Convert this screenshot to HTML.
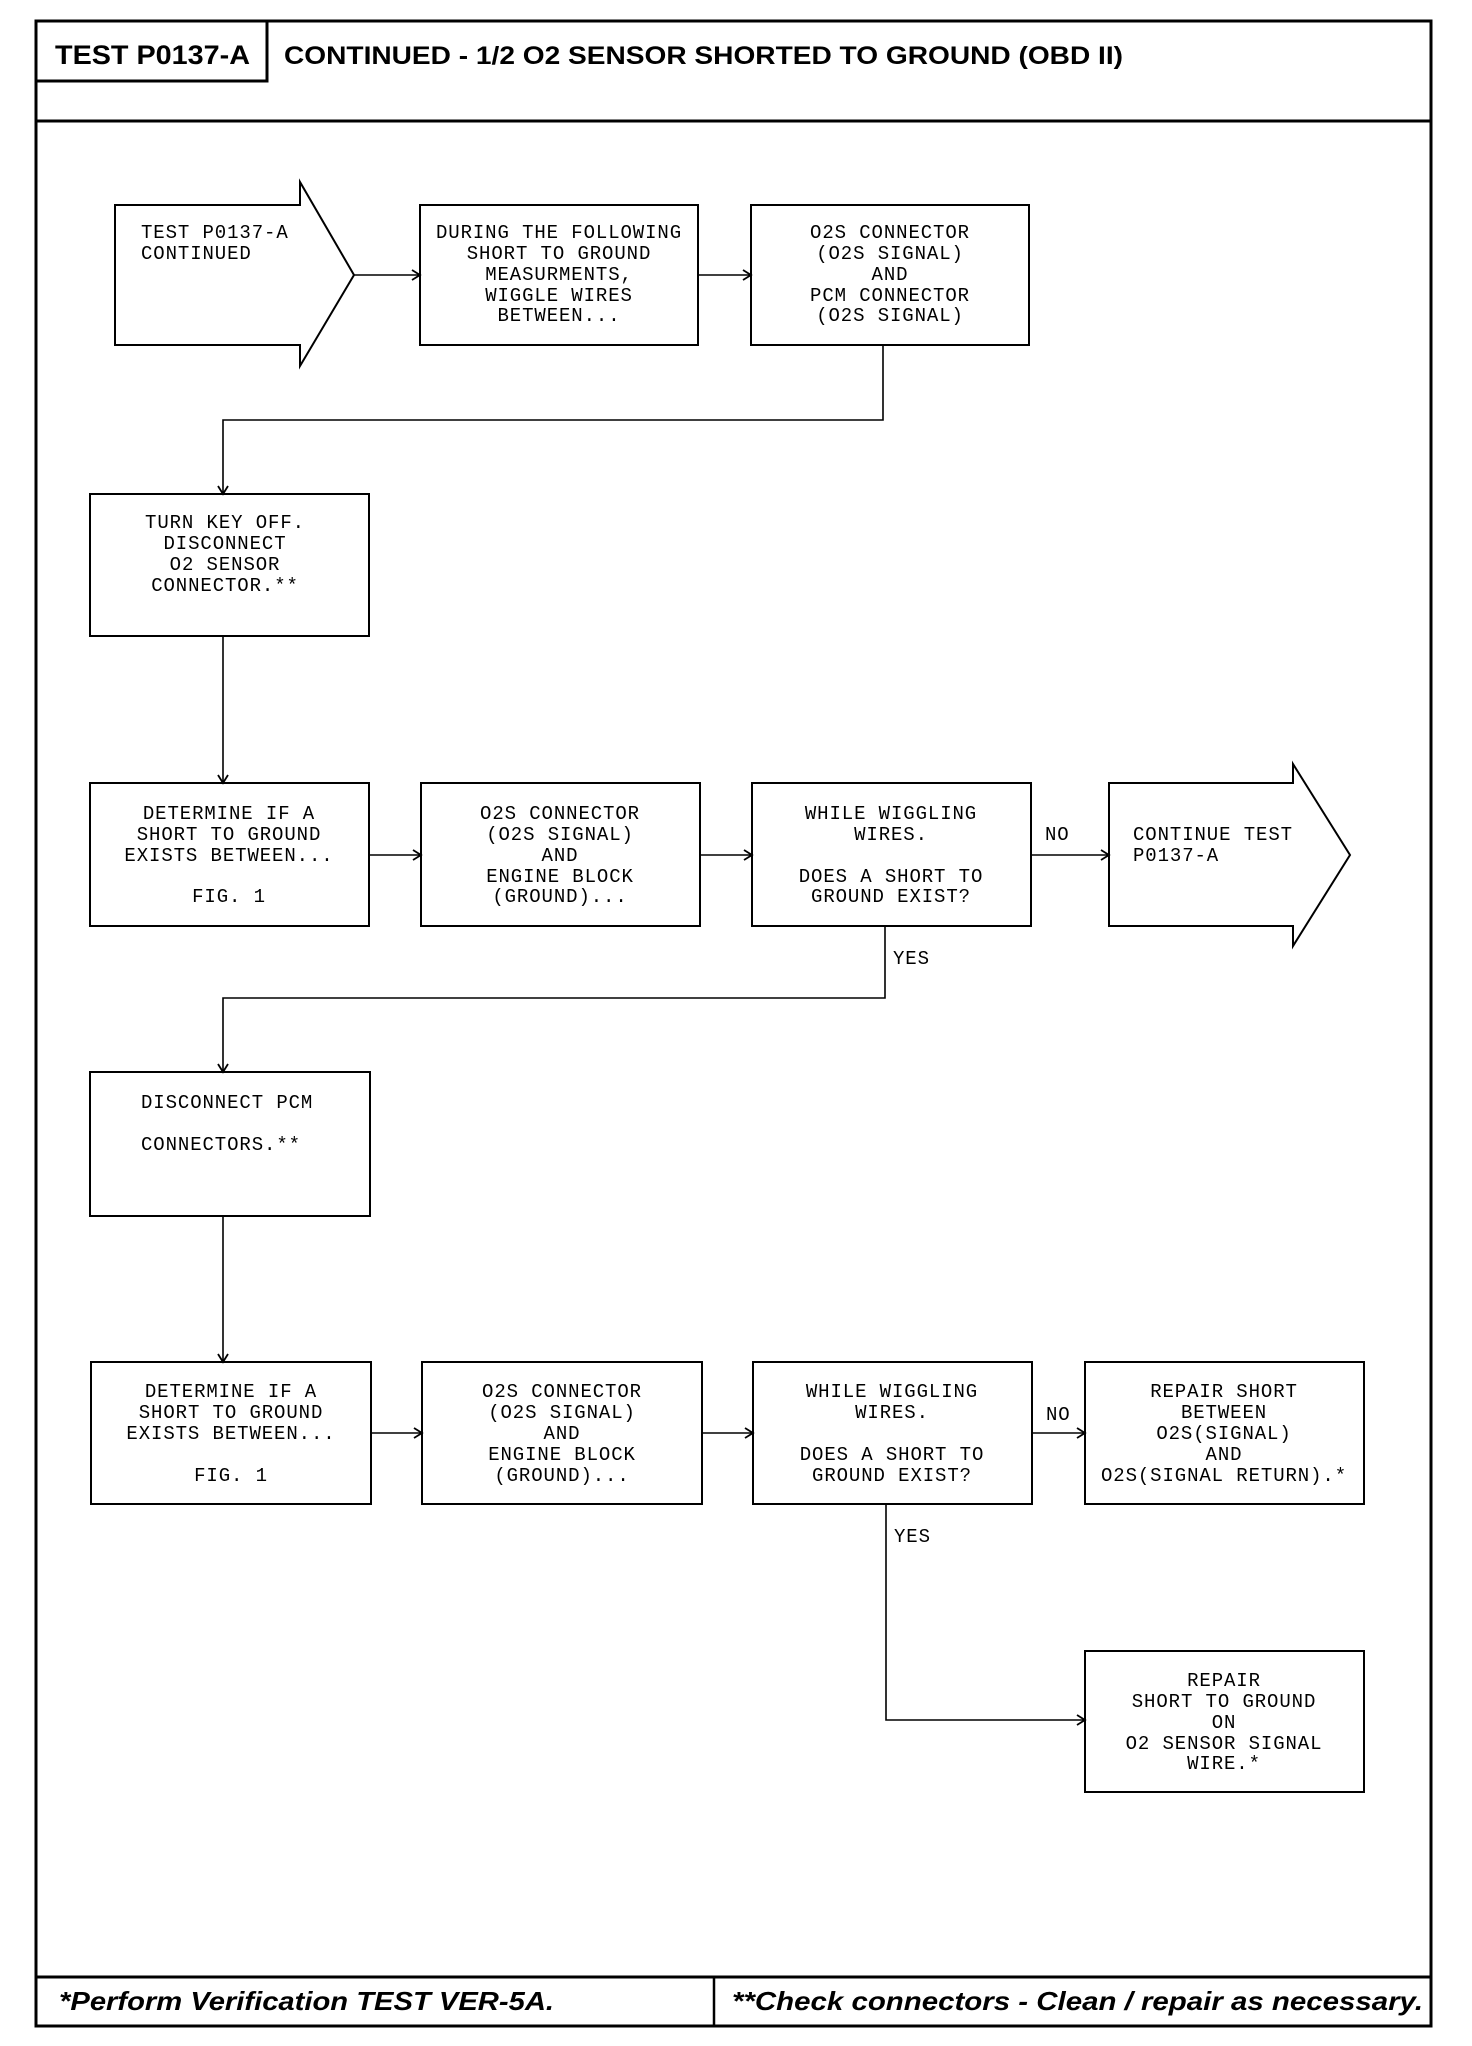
<!DOCTYPE html>
<html><head><meta charset="utf-8"><style>html,body{margin:0;padding:0;background:#fff}svg{display:block}</style></head>
<body>
<svg width="1472" height="2046" viewBox="0 0 1472 2046" xmlns="http://www.w3.org/2000/svg">
<defs>
<marker id="a" markerWidth="12" markerHeight="12" refX="10" refY="6" orient="auto" markerUnits="userSpaceOnUse">
<path d="M2,1 L10,6 L2,11" fill="none" stroke="#000" stroke-width="1.8"/>
</marker>
</defs>
<g fill="none" stroke="#000">
<rect x="36" y="21" width="1395" height="2005" stroke-width="3"/>
<rect x="36" y="21" width="231" height="60" stroke-width="3"/>
<line x1="36" y1="121" x2="1431" y2="121" stroke-width="3"/>
<line x1="36" y1="1977" x2="1431" y2="1977" stroke-width="3"/>
<line x1="714" y1="1977" x2="714" y2="2026" stroke-width="2.5"/>
</g>
<g fill="none" stroke="#000" stroke-width="2">
<polygon points="115,205 300,205 300,182 354,275 300,366 300,345 115,345"/>
<rect x="420" y="205" width="278" height="140"/>
<rect x="751" y="205" width="278" height="140"/>
<rect x="90" y="494" width="279" height="142"/>
<rect x="90" y="783" width="279" height="143"/>
<rect x="421" y="783" width="279" height="143"/>
<rect x="752" y="783" width="279" height="143"/>
<polygon points="1109,783 1293,783 1293,764 1350,855 1293,946 1293,926 1109,926"/>
<rect x="90" y="1072" width="280" height="144"/>
<rect x="91" y="1362" width="280" height="142"/>
<rect x="422" y="1362" width="280" height="142"/>
<rect x="753" y="1362" width="279" height="142"/>
<rect x="1085" y="1362" width="279" height="142"/>
<rect x="1085" y="1651" width="279" height="141"/>
</g>
<g fill="none" stroke="#000" stroke-width="1.6">
<line x1="354" y1="275" x2="420" y2="275" marker-end="url(#a)"/>
<line x1="698" y1="275" x2="751" y2="275" marker-end="url(#a)"/>
<polyline points="883,345 883,420 223,420 223,494" marker-end="url(#a)"/>
<line x1="223" y1="636" x2="223" y2="783" marker-end="url(#a)"/>
<line x1="369" y1="855" x2="421" y2="855" marker-end="url(#a)"/>
<line x1="700" y1="855" x2="752" y2="855" marker-end="url(#a)"/>
<line x1="1031" y1="855" x2="1109" y2="855" marker-end="url(#a)"/>
<polyline points="885,926 885,998 223,998 223,1072" marker-end="url(#a)"/>
<line x1="223" y1="1216" x2="223" y2="1362" marker-end="url(#a)"/>
<line x1="371" y1="1433" x2="422" y2="1433" marker-end="url(#a)"/>
<line x1="702" y1="1433" x2="753" y2="1433" marker-end="url(#a)"/>
<line x1="1032" y1="1433" x2="1085" y2="1433" marker-end="url(#a)"/>
<polyline points="886,1504 886,1720 1085,1720" marker-end="url(#a)"/>
</g>
<g font-family="'Liberation Sans',sans-serif" font-weight="bold" fill="#000">
<text x="55" y="64" font-size="27" textLength="195" lengthAdjust="spacingAndGlyphs">TEST P0137-A</text>
<text x="284" y="64" font-size="25" textLength="839" lengthAdjust="spacingAndGlyphs">CONTINUED - 1/2 O2 SENSOR SHORTED TO GROUND (OBD II)</text>
<text x="59" y="2010" font-size="26" font-style="italic" textLength="495" lengthAdjust="spacingAndGlyphs">*Perform Verification TEST VER-5A.</text>
<text x="732" y="2010" font-size="26" font-style="italic" textLength="691" lengthAdjust="spacingAndGlyphs">**Check connectors - Clean / repair as necessary.</text>
</g>
<g font-family="'Liberation Mono',monospace" font-size="19" fill="#000" letter-spacing="0.9">
<text x="141" y="238">TEST P0137-A</text>
<text x="141" y="259">CONTINUED</text>
<g text-anchor="middle">
<text x="559" y="238">DURING THE FOLLOWING</text>
<text x="559" y="259">SHORT TO GROUND</text>
<text x="559" y="280">MEASURMENTS,</text>
<text x="559" y="301">WIGGLE WIRES</text>
<text x="559" y="321">BETWEEN...</text>
<text x="890" y="238">O2S CONNECTOR</text>
<text x="890" y="259">(O2S SIGNAL)</text>
<text x="890" y="280">AND</text>
<text x="890" y="301">PCM CONNECTOR</text>
<text x="890" y="321">(O2S SIGNAL)</text>
<text x="225" y="528">TURN KEY OFF.</text>
<text x="225" y="549">DISCONNECT</text>
<text x="225" y="570">O2 SENSOR</text>
<text x="225" y="591">CONNECTOR.**</text>
<text x="229" y="819">DETERMINE IF A</text>
<text x="229" y="840">SHORT TO GROUND</text>
<text x="229" y="861">EXISTS BETWEEN...</text>
<text x="229" y="902">FIG. 1</text>
<text x="560" y="819">O2S CONNECTOR</text>
<text x="560" y="840">(O2S SIGNAL)</text>
<text x="560" y="861">AND</text>
<text x="560" y="882">ENGINE BLOCK</text>
<text x="560" y="902">(GROUND)...</text>
<text x="891" y="819">WHILE WIGGLING</text>
<text x="891" y="840">WIRES.</text>
<text x="891" y="882">DOES A SHORT TO</text>
<text x="891" y="902">GROUND EXIST?</text>
<text x="231" y="1397">DETERMINE IF A</text>
<text x="231" y="1418">SHORT TO GROUND</text>
<text x="231" y="1439">EXISTS BETWEEN...</text>
<text x="231" y="1481">FIG. 1</text>
<text x="562" y="1397">O2S CONNECTOR</text>
<text x="562" y="1418">(O2S SIGNAL)</text>
<text x="562" y="1439">AND</text>
<text x="562" y="1460">ENGINE BLOCK</text>
<text x="562" y="1481">(GROUND)...</text>
<text x="892" y="1397">WHILE WIGGLING</text>
<text x="892" y="1418">WIRES.</text>
<text x="892" y="1460">DOES A SHORT TO</text>
<text x="892" y="1481">GROUND EXIST?</text>
<text x="1224" y="1397">REPAIR SHORT</text>
<text x="1224" y="1418">BETWEEN</text>
<text x="1224" y="1439">O2S(SIGNAL)</text>
<text x="1224" y="1460">AND</text>
<text x="1224" y="1481">O2S(SIGNAL RETURN).*</text>
<text x="1224" y="1686">REPAIR</text>
<text x="1224" y="1707">SHORT TO GROUND</text>
<text x="1224" y="1728">ON</text>
<text x="1224" y="1749">O2 SENSOR SIGNAL</text>
<text x="1224" y="1769">WIRE.*</text>
</g>
<text x="1133" y="840">CONTINUE TEST</text>
<text x="1133" y="861">P0137-A</text>
<text x="141" y="1108">DISCONNECT PCM</text>
<text x="141" y="1150">CONNECTORS.**</text>
<text x="1045" y="840">NO</text>
<text x="893" y="964">YES</text>
<text x="1046" y="1420">NO</text>
<text x="894" y="1542">YES</text>
</g>
</svg>
</body></html>
